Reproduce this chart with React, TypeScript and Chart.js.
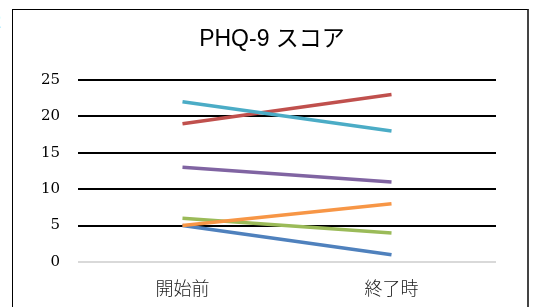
import React, { useEffect, useRef } from "react";
import { Chart, registerables } from "chart.js";

Chart.register(...registerables);

const categories = ["開始前", "終了時"];
const series1 = [5, 1];
const series2 = [19, 23];
const series3 = [6, 4];
const series4 = [13, 11];
const series5 = [22, 18];
const series6 = [5, 8];
const seriesList = [series1, series2, series3, series4, series5, series6];
const seriesNames = ["系列1", "系列2", "系列3", "系列4", "系列5", "系列6"];
const colors = ["#4F81BD", "#C0504D", "#9BBB59", "#8064A2", "#4BACC6", "#F79646"];
const titleText = "PHQ-9 スコア";

const titleShift = {
  id: "titleShift",
  afterLayout(chart: any) {
    if (chart.titleBlock) {
      chart.titleBlock.left = 48;
    }
  },
};

export default function App() {
  const canvasRef = useRef<HTMLCanvasElement | null>(null);

  useEffect(() => {
    if (!canvasRef.current) return;
    const chart = new Chart(canvasRef.current, {
      type: "line",
      data: {
        labels: categories,
        datasets: seriesList.map((d, i) => ({
          label: seriesNames[i],
          data: d,
          borderColor: colors[i],
          backgroundColor: colors[i],
          borderWidth: 3.5,
          pointRadius: 0,
          tension: 0,
          order: -i,
        })),
      },
      plugins: [titleShift],
      options: {
        animation: false,
        responsive: false,
        devicePixelRatio: 1,
        layout: { padding: { left: 0, right: 39, top: 0, bottom: 0 } },
        plugins: {
          legend: { display: false },
          tooltip: { enabled: false },
          title: {
            display: true,
            text: titleText,
            color: "#000",
            font: { family: "'Liberation Sans', 'Noto Sans CJK JP', sans-serif", size: 23, weight: "normal", lineHeight: 1.2 },
            padding: { top: 26, bottom: 26.4 },
          },
        },
        scales: {
          x: {
            offset: true,
            grid: { display: false, drawTicks: false },
            border: { display: false },
            ticks: {
              color: "#222",
              padding: 15,
              font: { family: "'Noto Sans CJK JP', sans-serif", size: 18, weight: "300" },
            },
            afterFit: (s: any) => {
              s.height = 45;
            },
          },
          y: {
            min: 0,
            max: 25,
            ticks: {
              stepSize: 5,
              color: "#000",
              padding: 18,
              font: { family: "'DejaVu Serif', serif", size: 15 },
            },
            grid: {
              drawTicks: false,
              color: (ctx: any) => (ctx.tick && ctx.tick.value === 0 ? "#d9d9d9" : "#000"),
              lineWidth: 2,
            },
            border: { display: false },
            afterFit: (s: any) => {
              s.width = 78;
            },
          },
        },
      },
    });
    return () => chart.destroy();
  }, []);

  return (
    <div style={{ position: "absolute", left: 0, top: 0, width: 535, height: 307, overflow: "hidden", background: "#fff" }}>
      <span style={{ position: "absolute", left: -9, top: 10, fontSize: 20, fontFamily: "'Liberation Serif', serif" }}>2</span>
      <div
        style={{
          position: "absolute",
          left: 12,
          top: 9,
          width: 514,
          height: 320,
          borderTop: "1px solid #000",
          borderLeft: "1px solid #000",
          borderRight: "2px solid #444",
        }}
      />
      <canvas ref={canvasRef} width={535} height={307} style={{ position: "absolute", left: 0, top: 0, width: 535, height: 307 }} />
    </div>
  );
}
